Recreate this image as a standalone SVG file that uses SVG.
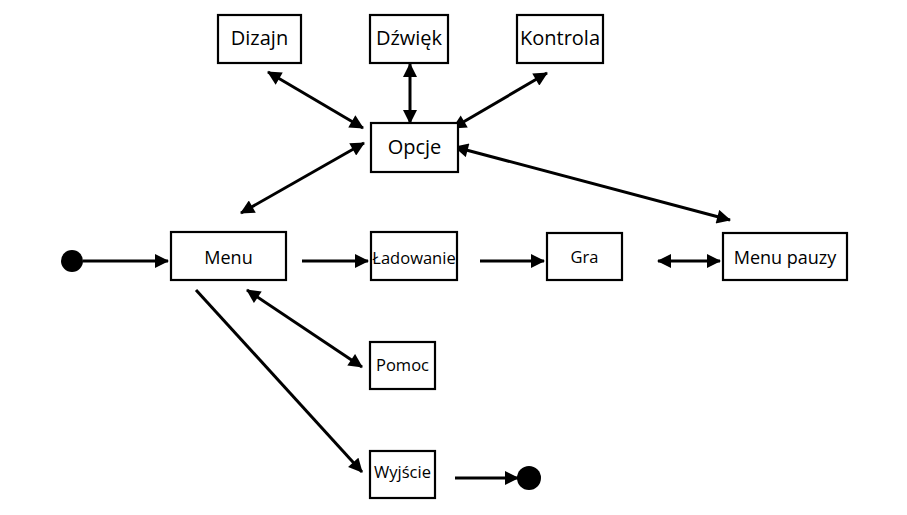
<svg xmlns="http://www.w3.org/2000/svg" width="907" height="515" viewBox="0 0 907 515">
<defs>
<style>
.box{fill:#fff;stroke:#000;stroke-width:2.2}
.t{font-family:"Open Sans","DejaVu Sans",sans-serif;fill:#000;text-anchor:middle}
.l{font-size:20px}
.m{font-size:18px}
.s{font-size:16.5px}
.c{stroke:#000;stroke-width:3;fill:none}
</style>
<marker id="ae" viewBox="0 0 14 14" refX="13" refY="7" markerWidth="15" markerHeight="14" markerUnits="userSpaceOnUse" orient="auto">
<path d="M0,0 L14,7 L0,14 Z" fill="#000"/>
</marker>
<marker id="as" viewBox="0 0 14 14" refX="1" refY="7" markerWidth="15" markerHeight="14" markerUnits="userSpaceOnUse" orient="auto">
<path d="M14,0 L0,7 L14,14 Z" fill="#000"/>
</marker>
</defs>
<rect width="907" height="515" fill="#fff"/>
<g id="connectors">
<line class="c" x1="83" y1="261" x2="168" y2="261" marker-end="url(#ae)"/>
<line class="c" x1="302" y1="261" x2="368" y2="261" marker-end="url(#ae)"/>
<line class="c" x1="480" y1="261" x2="544" y2="261" marker-end="url(#ae)"/>
<line class="c" x1="658" y1="261" x2="720" y2="261" marker-start="url(#as)" marker-end="url(#ae)"/>
<line class="c" x1="455" y1="478" x2="518" y2="478" marker-end="url(#ae)"/>
<line class="c" x1="196" y1="290" x2="362" y2="472" marker-end="url(#ae)"/>
<line class="c" x1="247" y1="290" x2="362" y2="367" marker-start="url(#as)" marker-end="url(#ae)"/>
<line class="c" x1="241" y1="213" x2="364" y2="143" marker-start="url(#as)" marker-end="url(#ae)"/>
<line class="c" x1="268" y1="72" x2="363" y2="128" marker-start="url(#as)" marker-end="url(#ae)"/>
<line class="c" x1="410" y1="64" x2="410" y2="123" marker-start="url(#as)" marker-end="url(#ae)"/>
<line class="c" x1="547" y1="73" x2="453" y2="128" marker-start="url(#as)" marker-end="url(#ae)"/>
<line class="c" x1="455" y1="147" x2="730" y2="220" marker-start="url(#as)" marker-end="url(#ae)"/>
</g>
<g id="start"><circle cx="72" cy="261" r="11" fill="#000"/></g>
<g id="end"><circle cx="529" cy="478" r="12" fill="#000"/></g>
<g id="dizajn"><rect class="box" x="218" y="15" width="83" height="48"/><text class="t l" x="259.5" y="45">Dizajn</text></g>
<g id="dzwiek"><rect class="box" x="370" y="15" width="78" height="48"/><text class="t l" x="409" y="45">Dźwięk</text></g>
<g id="kontrola"><rect class="box" x="517" y="15" width="86" height="48"/><text class="t l" x="560" y="45">Kontrola</text></g>
<g id="opcje"><rect class="box" x="371" y="123" width="87" height="49"/><text class="t l" x="414.5" y="154">Opcje</text></g>
<g id="menu"><rect class="box" x="171" y="232" width="115" height="48"/><text class="t m" x="228.5" y="264">Menu</text></g>
<g id="ladowanie"><rect class="box" x="371" y="232" width="86" height="48"/><text class="t s" x="414" y="264">Ładowanie</text></g>
<g id="gra"><rect class="box" x="547" y="233" width="75" height="47"/><text class="t s" x="584.5" y="263">Gra</text></g>
<g id="menu-pauzy"><rect class="box" x="723" y="233" width="124" height="47"/><text class="t m" x="785" y="264">Menu pauzy</text></g>
<g id="pomoc"><rect class="box" x="370" y="342" width="65" height="47"/><text class="t s" x="402.5" y="371">Pomoc</text></g>
<g id="wyjscie"><rect class="box" x="370" y="451" width="65" height="47"/><text class="t s" x="402.5" y="478">Wyjście</text></g>
</svg>
